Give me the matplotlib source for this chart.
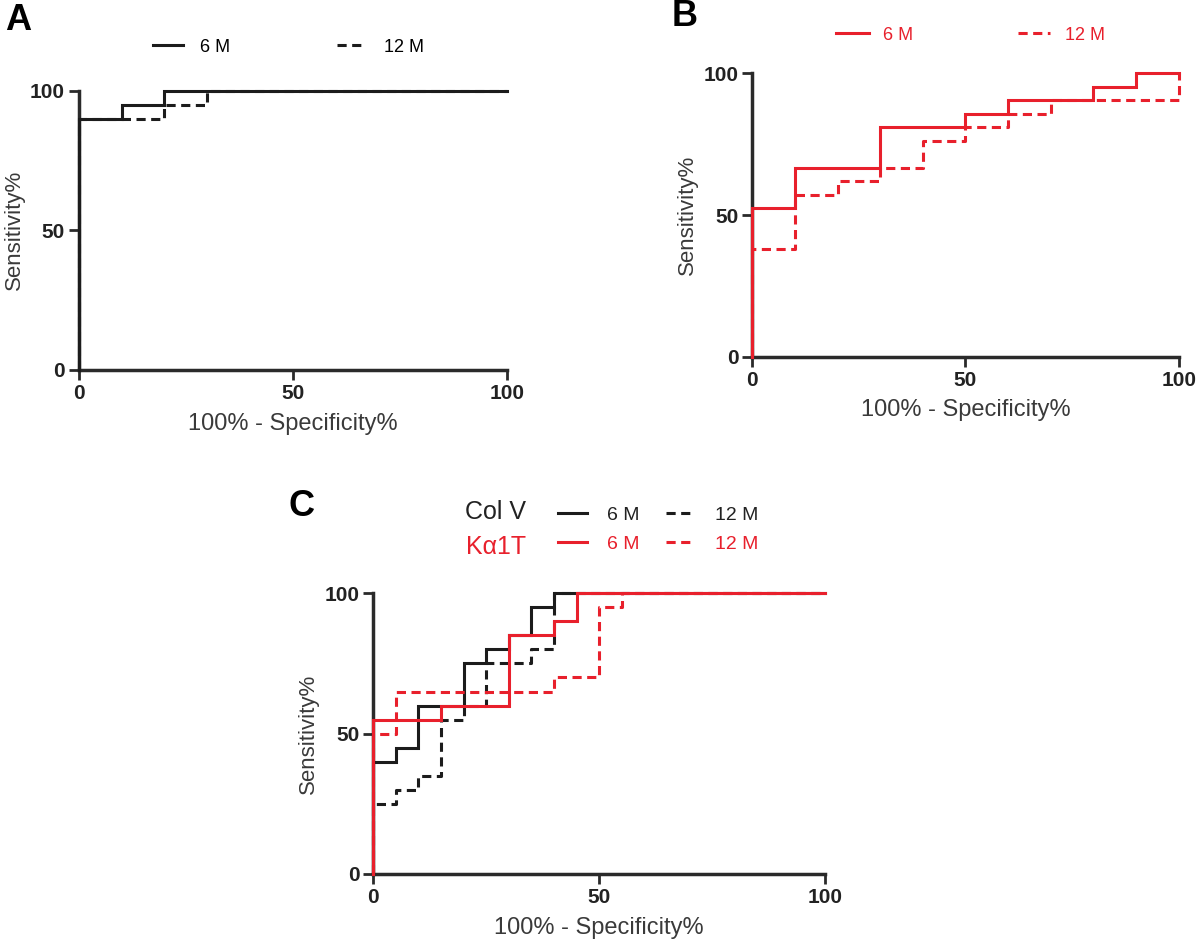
import matplotlib
matplotlib.use('Agg')
import matplotlib.pyplot as plt

plt.rcParams['font.family'] = ['Liberation Sans', 'DejaVu Sans']

# ROC step curves (100% - specificity, sensitivity)
a6_x = [0, 0, 10, 20, 100]
a6_y = [0, 90, 95, 100, 100]
a12_x = [0, 0, 20, 30, 100]
a12_y = [0, 90, 95, 100, 100]

b6_x = [0, 0, 10, 30, 50, 60, 80, 90, 100]
b6_y = [0, 52.4, 66.7, 81.0, 85.7, 90.5, 95.2, 100, 100]
b12_x = [0, 0, 10, 20, 30, 40, 50, 60, 70, 100]
b12_y = [0, 38.1, 57.1, 61.9, 66.7, 76.2, 81.0, 85.7, 90.5, 100]

colv6_x = [0, 0, 5, 10, 20, 25, 30, 35, 40, 100]
colv6_y = [0, 40, 45, 60, 75, 80, 85, 95, 100, 100]
colv12_x = [0, 0, 5, 10, 15, 20, 25, 35, 40, 100]
colv12_y = [0, 25, 30, 35, 55, 60, 75, 80, 100, 100]
ka6_x = [0, 0, 15, 30, 40, 45, 100]
ka6_y = [0, 55, 60, 85, 90, 100, 100]
ka12_x = [0, 0, 5, 40, 50, 55, 100]
ka12_y = [0, 50, 65, 70, 95, 100, 100]

ticks = [0, 50, 100]
RED = '#e8202c'
BLACK = '#1c1c1c'
AXC = '#2a2a2a'

fig = plt.figure(figsize=(12, 9.44), dpi=100)
axA = fig.add_axes([0.0658, 0.6081, 0.3564, 0.2959])
axB = fig.add_axes([0.6269, 0.6221, 0.3553, 0.3002])
axC = fig.add_axes([0.3111, 0.0742, 0.3764, 0.2973])


def style(ax):
    ax.set_xlim(0, 100)
    ax.set_ylim(0, 100)
    ax.set_xticks(ticks)
    ax.set_yticks(ticks)
    for s in ['top', 'right']:
        ax.spines[s].set_visible(False)
    for s in ['left', 'bottom']:
        ax.spines[s].set_linewidth(2.5)
        ax.spines[s].set_color(AXC)
    ax.tick_params(width=2, length=7, labelsize=15, pad=3, color=AXC,
                   labelcolor='#222')
    for lab in ax.get_xticklabels() + ax.get_yticklabels():
        lab.set_fontweight('bold')
    ax.set_xlabel('100% - Specificity%', fontsize=17, color='#3a3a3a', labelpad=7)
    ax.set_ylabel('Sensitivity%', fontsize=16, color='#3a3a3a', labelpad=4)


def curve(ax, x, y, color, dashed=False, lw=2.2, z=3):
    kw = dict(where='post', color=color, lw=lw, clip_on=False, zorder=z,
              solid_joinstyle='miter')
    if dashed:
        kw['dashes'] = (3, 1.8)
    return ax.step(x, y, **kw)[0]


# Panel A
style(axA)
la6 = curve(axA, a6_x, a6_y, BLACK)
la12 = curve(axA, a12_x, a12_y, BLACK, dashed=True)
axA.legend([la6, la12], ['6 M', '12 M'], ncol=2, frameon=False, fontsize=13,
           loc='center left', bbox_to_anchor=(153 / 1200, 1 - 47 / 944),
           bbox_transform=fig.transFigure, borderpad=0, borderaxespad=0,
           handlelength=1.65, handletextpad=0.95, columnspacing=5.9)

# Panel B
style(axB)
lb6 = curve(axB, b6_x, b6_y, RED, z=4)
lb12 = curve(axB, b12_x, b12_y, RED, dashed=True)
legB = axB.legend([lb6, lb12], ['6 M', '12 M'], ncol=2, frameon=False, fontsize=13,
                  loc='center left', bbox_to_anchor=(836 / 1200, 1 - 35 / 944),
                  bbox_transform=fig.transFigure, borderpad=0, borderaxespad=0,
                  handlelength=1.8, handletextpad=0.8, columnspacing=5.8)
for t in legB.get_texts():
    t.set_color(RED)

# Panel C
style(axC)
lc1 = curve(axC, colv6_x, colv6_y, BLACK)
lc2 = curve(axC, colv12_x, colv12_y, BLACK, dashed=True)
lc3 = curve(axC, ka6_x, ka6_y, RED, z=4)
lc4 = curve(axC, ka12_x, ka12_y, RED, dashed=True, z=4)
legC = axC.legend([lc1, lc3, lc2, lc4], ['6 M', '6 M', '12 M', '12 M'], ncol=2,
                  frameon=False, fontsize=14, loc='center left',
                  bbox_to_anchor=(558 / 1200, 1 - 529.5 / 944),
                  bbox_transform=fig.transFigure, borderpad=0, borderaxespad=0,
                  handlelength=1.5, handletextpad=1.0, columnspacing=1.4,
                  labelspacing=0.6)
for t, c in zip(legC.get_texts(), ['#222', RED, '#222', RED]):
    t.set_color(c)
fig.text(526 / 1200, 1 - 512 / 944, 'Col V', ha='right', va='center',
         fontsize=18, color='#222')
fig.text(526 / 1200, 1 - 547 / 944, 'K\u03b11T', ha='right', va='center',
         fontsize=18, color=RED)

# panel letters
fig.text(5 / 1200, 1 - 20 / 944, 'A', fontsize=26, fontweight='bold', va='center')
fig.text(672 / 1200, 1 - 17 / 944, 'B', fontsize=26, fontweight='bold', va='center')
fig.text(289 / 1200, 1 - 507 / 944, 'C', fontsize=26, fontweight='bold', va='center')

fig.savefig('out.png', dpi=100)
